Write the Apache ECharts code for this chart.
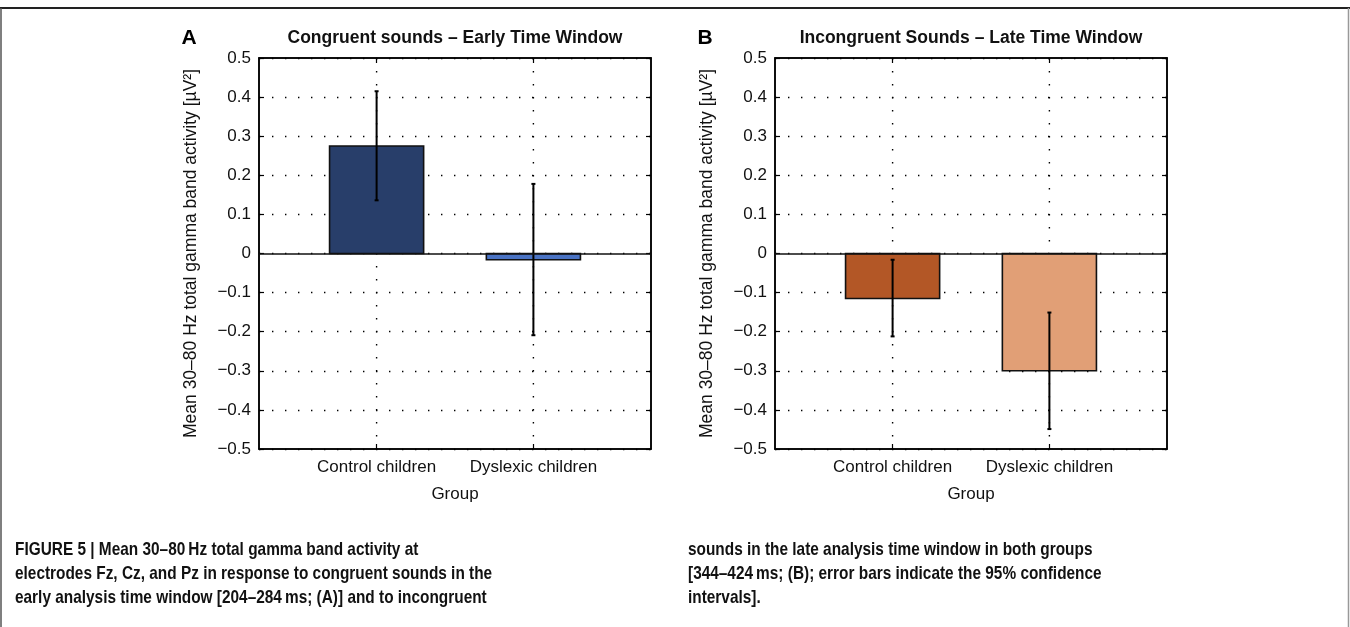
<!DOCTYPE html>
<html><head><meta charset="utf-8">
<script src="https://cdn.jsdelivr.net/npm/echarts@6/dist/echarts.min.js"></script>
<style>html,body{margin:0;padding:0;background:#fff}#c{width:1350px;height:627px}</style>
</head><body><div id="c"></div>
<script>
// ---------- data ----------
const categories = ['Control children', 'Dyslexic children'];
const groupPositions = [1, 2];
const yTickValues = [-0.5, -0.4, -0.3, -0.2, -0.1, 0, 0.1, 0.2, 0.3, 0.4, 0.5];
const panelLetters = ['A', 'B'];
const panelTitles = ['Congruent sounds \u2013 Early Time Window', 'Incongruent Sounds \u2013 Late Time Window'];
const xAxisName = 'Group';
const yAxisName = 'Mean 30\u201380 Hz total gamma band activity [\u00b5V\u00b2]';

const meanEarlyCongruent = [0.275, -0.016];
const ciLowEarlyCongruent = [0.136, -0.209];
const ciHighEarlyCongruent = [0.415, 0.178];

const meanLateIncongruent = [-0.115, -0.300];
const ciLowLateIncongruent = [-0.212, -0.449];
const ciHighLateIncongruent = [-0.016, -0.151];

const captionLeft = [
  'FIGURE 5 | Mean 30\u201380\u2009Hz total gamma band activity at',
  'electrodes Fz, Cz, and Pz in response to congruent sounds in the',
  'early analysis time window [204\u2013284\u2009ms; (A)] and to incongruent'
];
const captionRight = [
  'sounds in the late analysis time window in both groups',
  '[344\u2013424\u2009ms; (B); error bars indicate the 95% confidence',
  'intervals].'
];

// ---------- styles ----------
const colorsA = ['#283e6a', '#4a73c4'];
const colorsB = ['#b35726', '#e19f76'];
const barWidthUnits = 0.6;
const FONT = "'Liberation Sans', Arial, Helvetica, sans-serif";
const grids = [
  {left: 259, top: 58, width: 392, height: 391},
  {left: 775, top: 58, width: 392, height: 391}
];

const chart = echarts.init(document.getElementById('c'), null, {renderer: 'canvas'});

function fmtY(v) {
  if (Math.abs(v) < 1e-9) return '0';
  const s = (Math.round(v * 10) / 10).toFixed(1);
  return s.replace('-', '\u2212');
}

const xAxes = [], yAxes = [], series = [];
grids.forEach((g, i) => {
  xAxes.push({
    gridIndex: i, type: 'value', min: 0.25, max: 2.75, position: 'bottom',
    name: xAxisName, nameLocation: 'middle', nameGap: 37,
    nameTextStyle: {fontFamily: FONT, fontSize: 17, color: '#111'},
    axisLine: {show: true, onZero: false, lineStyle: {color: '#000', width: 1.5}},
    axisTick: {show: true, inside: true, length: 5, customValues: groupPositions, lineStyle: {color: '#000', width: 1.2}},
    axisLabel: {show: true, margin: 10, customValues: groupPositions, fontFamily: FONT, fontSize: 17, color: '#111',
      formatter: v => categories[groupPositions.indexOf(Math.round(v))] || ''},
    splitLine: {show: false}
  });
  xAxes.push({
    gridIndex: i, type: 'value', min: 0.25, max: 2.75, position: 'top',
    axisLine: {show: true, onZero: false, lineStyle: {color: '#000', width: 1.5}},
    axisTick: {show: true, inside: true, length: 5, customValues: groupPositions, lineStyle: {color: '#000', width: 1.2}},
    axisLabel: {show: false}, splitLine: {show: false}
  });
  yAxes.push({
    gridIndex: i, type: 'value', min: -0.5, max: 0.5, interval: 0.1, position: 'left',
    name: yAxisName, nameLocation: 'middle', nameGap: 59, nameRotate: 90,
    nameTextStyle: {fontFamily: FONT, fontSize: 17.5, color: '#111'},
    axisLine: {show: true, onZero: false, lineStyle: {color: '#000', width: 1.5}},
    axisTick: {show: true, inside: true, length: 5, lineStyle: {color: '#000', width: 1.2}},
    axisLabel: {show: true, margin: 8, fontFamily: FONT, fontSize: 17, color: '#111', formatter: fmtY},
    splitLine: {show: true, lineStyle: {color: '#000', width: 1.4, type: [1.4, 11.6]}}
  });
  yAxes.push({
    gridIndex: i, type: 'value', min: -0.5, max: 0.5, interval: 0.1, position: 'right',
    axisLine: {show: true, onZero: false, lineStyle: {color: '#000', width: 1.5}},
    axisTick: {show: true, inside: true, length: 5, lineStyle: {color: '#000', width: 1.2}},
    axisLabel: {show: false}, splitLine: {show: false}
  });
});

const panels = [
  {mean: meanEarlyCongruent, lo: ciLowEarlyCongruent, hi: ciHighEarlyCongruent, colors: colorsA},
  {mean: meanLateIncongruent, lo: ciLowLateIncongruent, hi: ciHighLateIncongruent, colors: colorsB}
];

panels.forEach((p, i) => {
  const xi = i * 2, yi = i * 2;
  series.push({
    type: 'custom', xAxisIndex: xi, yAxisIndex: yi, z: 1, silent: true,
    data: groupPositions.map(x => [x]),
    renderItem: (params, api) => {
      const x = api.value(0);
      const a = api.coord([x, yTickValues[yTickValues.length - 1]]);
      const b = api.coord([x, yTickValues[0]]);
      return {type: 'line', shape: {x1: a[0], y1: a[1], x2: b[0], y2: b[1]},
        style: {stroke: '#000', lineWidth: 1.4, lineDash: [1.4, 11.6]}};
    }
  });
  series.push({
    type: 'custom', xAxisIndex: xi, yAxisIndex: yi, z: 3, silent: true,
    data: groupPositions.map((x, k) => [x, p.mean[k]]),
    renderItem: (params, api) => {
      const x = api.value(0), v = api.value(1);
      const a = api.coord([x - barWidthUnits / 2, v]);
      const b = api.coord([x + barWidthUnits / 2, 0]);
      return {type: 'rect',
        shape: {x: a[0], y: Math.min(a[1], b[1]), width: b[0] - a[0], height: Math.abs(b[1] - a[1])},
        style: {fill: p.colors[params.dataIndex], stroke: '#111', lineWidth: 1.6}};
    },
    markLine: {
      silent: true, symbol: ['none', 'none'], label: {show: false}, animation: false,
      lineStyle: {color: '#111', width: 1.6, type: 'solid'},
      data: [{yAxis: 0}]
    }
  });
  series.push({
    type: 'custom', xAxisIndex: xi, yAxisIndex: yi, z: 4, silent: true,
    data: groupPositions.map((x, k) => [x, p.lo[k], p.hi[k]]),
    renderItem: (params, api) => {
      const x = api.value(0);
      const a = api.coord([x, api.value(1)]);
      const b = api.coord([x, api.value(2)]);
      const st = {stroke: '#000', lineWidth: 2};
      return {type: 'group', children: [
        {type: 'line', shape: {x1: a[0], y1: a[1], x2: b[0], y2: b[1]}, style: st},
        {type: 'line', shape: {x1: a[0] - 2, y1: a[1], x2: a[0] + 2, y2: a[1]}, style: st},
        {type: 'line', shape: {x1: b[0] - 2, y1: b[1], x2: b[0] + 2, y2: b[1]}, style: st}
      ]};
    }
  });
});

const graphics = [];
graphics.push({type: 'line', shape: {x1: 0, y1: 8, x2: 1350, y2: 8}, style: {stroke: '#222', lineWidth: 2}});
graphics.push({type: 'line', shape: {x1: 1, y1: 8, x2: 1, y2: 627}, style: {stroke: '#555', lineWidth: 1.5}});
graphics.push({type: 'line', shape: {x1: 1348.5, y1: 8, x2: 1348.5, y2: 627}, style: {stroke: '#999', lineWidth: 1.5}});
grids.forEach((g, i) => {
  graphics.push({type: 'text', x: g.left - 70, y: 38,
    style: {text: panelLetters[i], font: "bold 21px " + FONT, fill: '#000', align: 'center', verticalAlign: 'middle'}});
  graphics.push({type: 'text', x: g.left + g.width / 2, y: 38,
    style: {text: panelTitles[i], font: "bold 17.5px " + FONT, fill: '#111', align: 'center', verticalAlign: 'middle'}});
});
const capFont = "bold 19px " + FONT;
const capScale = 0.81;
captionLeft.forEach((t, k) => graphics.push({type: 'text', x: 15, y: 550 + k * 24, scaleX: capScale,
  style: {text: t, font: capFont, fill: '#111', align: 'left', verticalAlign: 'middle'}}));
captionRight.forEach((t, k) => graphics.push({type: 'text', x: 688, y: 550 + k * 24, scaleX: capScale,
  style: {text: t, font: capFont, fill: '#111', align: 'left', verticalAlign: 'middle'}}));

chart.setOption({
  animation: false,
  backgroundColor: '#fff',
  grid: grids.map(g => Object.assign({show: true, borderColor: '#000', borderWidth: 1.5, backgroundColor: 'transparent'}, g)),
  xAxis: xAxes,
  yAxis: yAxes,
  series: series,
  graphic: graphics
});
</script>
</body></html>
